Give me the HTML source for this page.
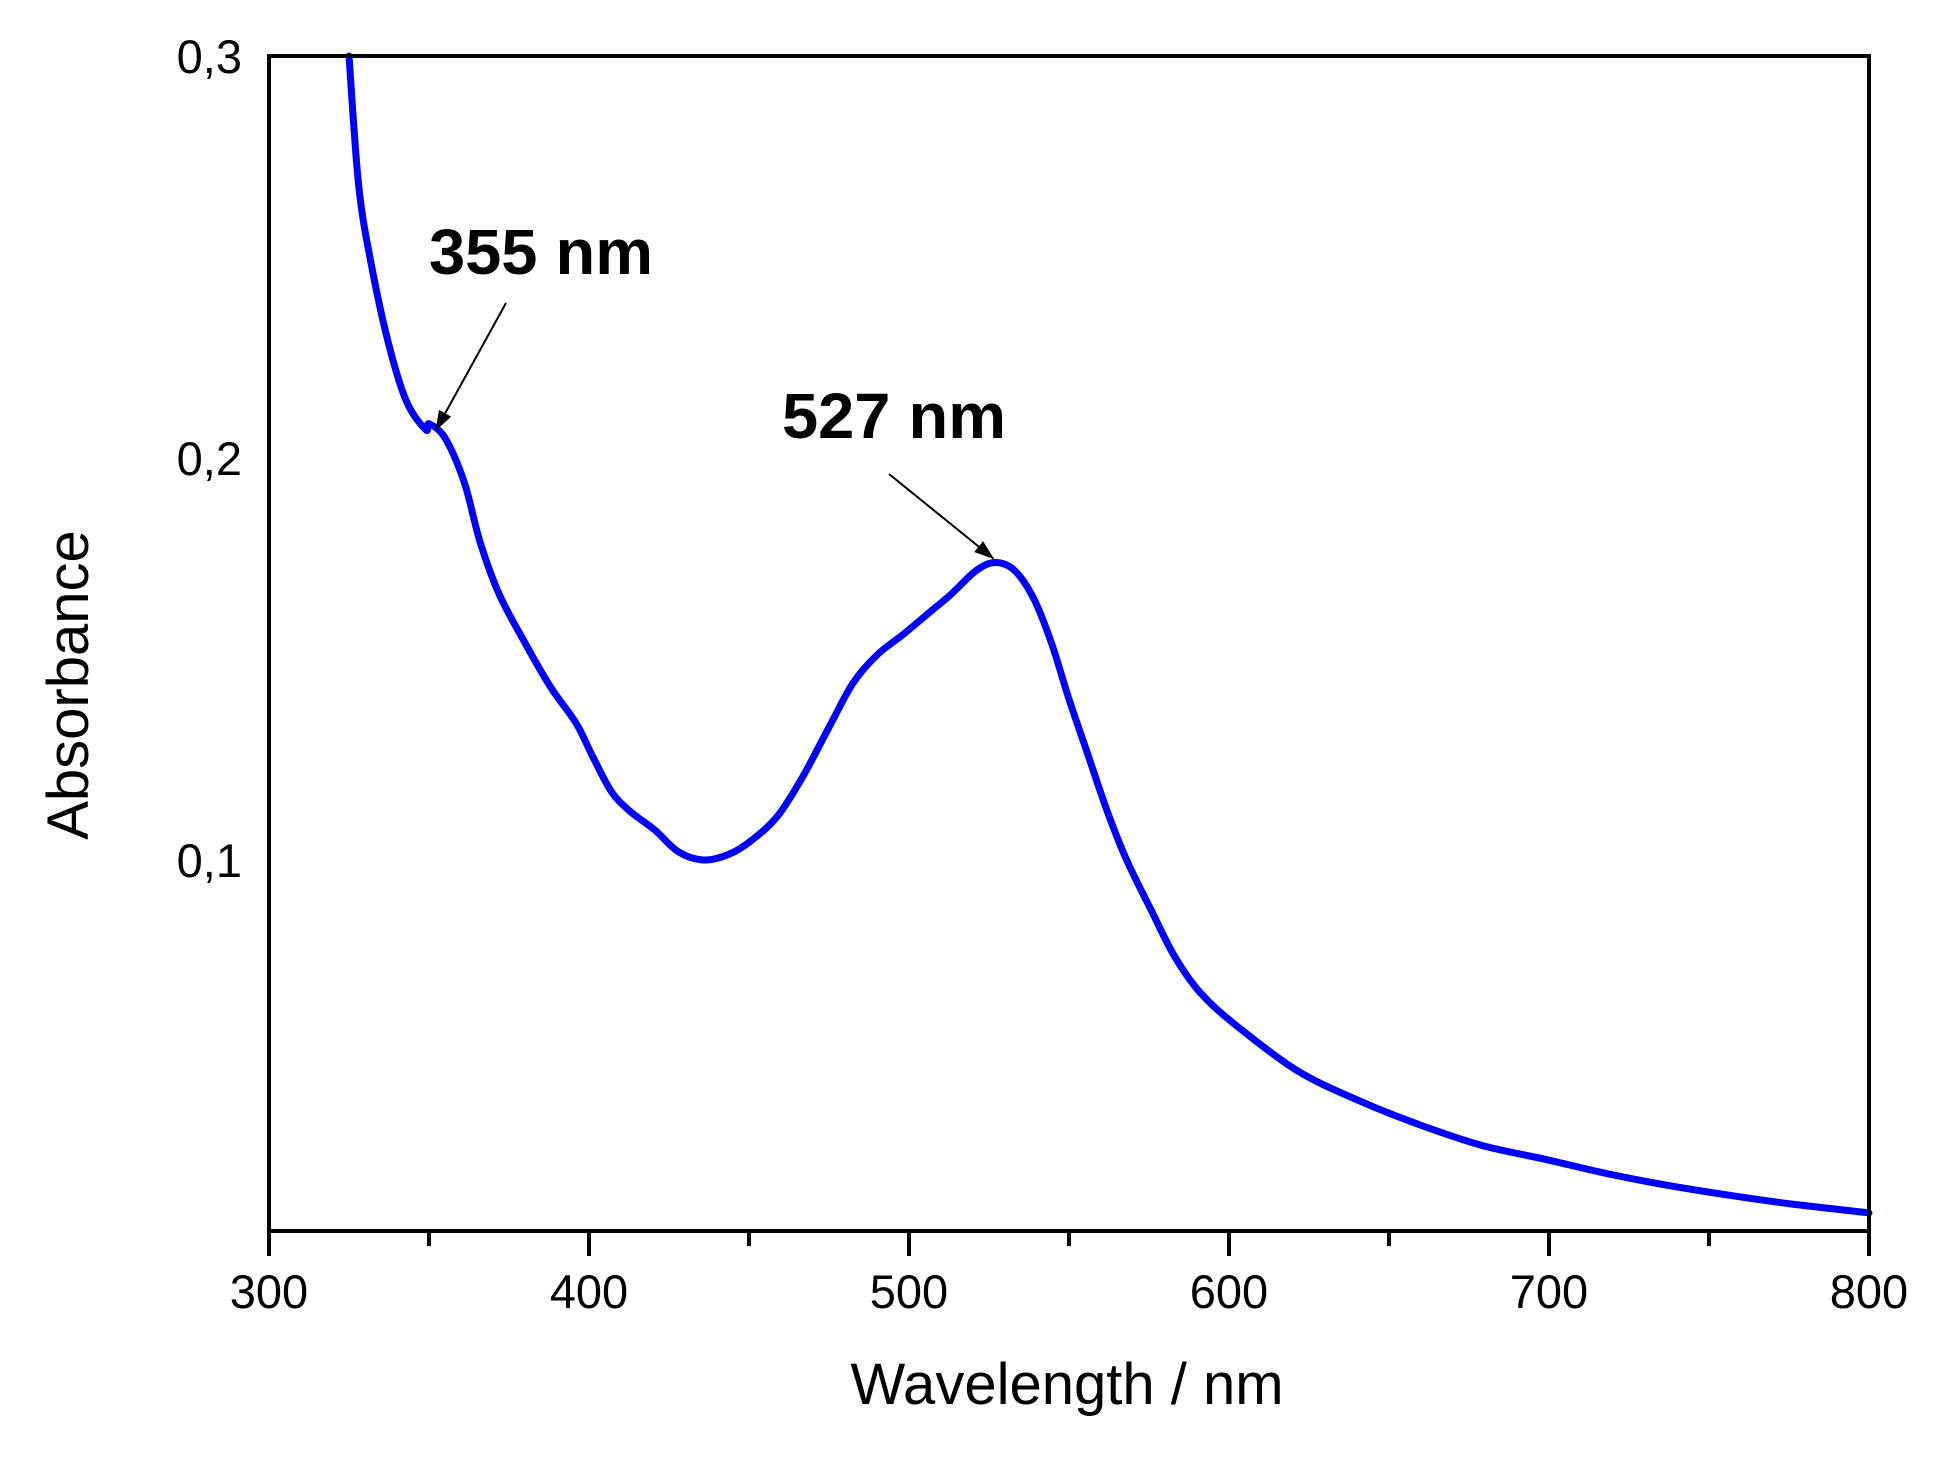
<!DOCTYPE html>
<html><head><meta charset="utf-8"><style>
html,body{margin:0;padding:0;background:#fff;}
svg{display:block;font-family:"Liberation Sans",sans-serif;}
</style></head><body>
<svg id="chart" width="1935" height="1462" viewBox="0 0 1935 1462">
<defs><marker id="ah" markerWidth="20" markerHeight="14" refX="19" refY="7" orient="auto" markerUnits="userSpaceOnUse" viewBox="0 0 20 14"><path d="M0,0 L20,7 L0,14 Z" fill="#000"/></marker></defs>
<g id="plot"></g>
</svg>
<script>
const wavelengths=[325,328,332,337.5,343,349,350,355,361,366,372,380,388,396,401,407,413,420.5,428,436,444,451,459,467,475,482.5,490,498,505.5,513,521,527,533,539,544.5,550,556,562,568,576,583,591,602,621.5,641,660,679,699,718,737.5,757,776,800];
const absorbance=[0.3,0.268,0.248,0.228,0.214,0.207,0.2085,0.205,0.194,0.179,0.166,0.154,0.143,0.134,0.126,0.117,0.112,0.1075,0.102,0.1,0.1015,0.105,0.111,0.121,0.133,0.144,0.151,0.156,0.161,0.166,0.172,0.174,0.172,0.165,0.154,0.14,0.126,0.112,0.1,0.087,0.076,0.067,0.059,0.0475,0.04,0.034,0.029,0.0255,0.022,0.019,0.0165,0.0144,0.0122];
const xTicks=[300,400,500,600,700,800];
const xMinor=[350,450,550,650,750];
const yTicks=[0.1,0.2,0.3];
const yTickLabels=["0,1","0,2","0,3"];
const annotations=[{label:"355 nm",wl:355,a:0.205},{label:"527 nm",wl:527,a:0.174}];

const L=269,R=1869,T=56,B=1231,xmin=300,xmax=800,ymin=0.0077,ymax=0.3;
const sx=v=>L+(v-xmin)/(xmax-xmin)*(R-L);
const sy=v=>B-(v-ymin)/(ymax-ymin)*(B-T);
const NS="http://www.w3.org/2000/svg";
const g=document.getElementById('plot');
function mk(tag,attrs,parent){const e=document.createElementNS(NS,tag);for(const k in attrs)e.setAttribute(k,attrs[k]);(parent||g).appendChild(e);return e;}

const P=wavelengths.map((w,i)=>[sx(w),sy(absorbance[i])]);
let d='M'+P[0][0].toFixed(1)+','+P[0][1].toFixed(1);
for(let i=0;i<P.length-1;i++){
  const p0=P[Math.max(i-1,0)],p1=P[i],p2=P[i+1],p3=P[Math.min(i+2,P.length-1)];
  const c1=[p1[0]+(p2[0]-p0[0])/6,p1[1]+(p2[1]-p0[1])/6];
  const c2=[p2[0]-(p3[0]-p1[0])/6,p2[1]-(p3[1]-p1[1])/6];
  d+=' C'+c1.map(v=>v.toFixed(1)).join(',')+' '+c2.map(v=>v.toFixed(1)).join(',')+' '+p2.map(v=>v.toFixed(1)).join(',');
}
const line=mk('path',{d:d,fill:'none',stroke:'#0000ff','stroke-width':7,'stroke-linejoin':'round','stroke-linecap':'round'});



const frame=mk('rect',{x:L,y:T,width:R-L,height:B-T,fill:'none',stroke:'#000','stroke-width':4});



xTicks.forEach(v=>{
  const t=mk('line',{x1:sx(v),x2:sx(v),y1:B,y2:B+25,stroke:'#000','stroke-width':4});
  
  
  const lb=mk('text',{x:sx(v),y:1308,'text-anchor':'middle','font-size':47,fill:'#000'});
  lb.textContent=v;
  
  
});
xMinor.forEach(v=>{
  const t=mk('line',{x1:sx(v),x2:sx(v),y1:B,y2:B+15,stroke:'#000','stroke-width':4});
  
  
});
yTicks.forEach((v,i)=>{
  const lb=mk('text',{x:242,y:sy(v)+17,'text-anchor':'end','font-size':47,fill:'#000'});
  lb.textContent=yTickLabels[i];
  
  
});

const xt=mk('text',{x:1067,y:1404,'text-anchor':'middle','font-size':58,fill:'#000'});
xt.textContent='Wavelength / nm';


const yt=mk('text',{x:0,y:0,'text-anchor':'middle','font-size':58,fill:'#000',transform:'translate(88,685) rotate(-90)'});
yt.textContent='Absorbance';



const annoOffsets=[{tx:429,ty:274,ax1:506,ay1:303,dx:-9,dy:-8},{tx:782,ty:438,ax1:889,ay1:474,dx:-2,dy:-4}];
annotations.forEach((a,i)=>{
  const o=annoOffsets[i];
  const t=mk('text',{x:o.tx,y:o.ty,'font-size':64,'font-weight':'bold',fill:'#000',textLength:224,lengthAdjust:'spacingAndGlyphs'});
  t.textContent=a.label;
  
  
  const ar=mk('line',{x1:o.ax1,y1:o.ay1,x2:sx(a.wl)+o.dx,y2:sy(a.a)+o.dy,stroke:'#000','stroke-width':2,'marker-end':'url(#ah)'});
  
  
});
</script>
</body></html>
